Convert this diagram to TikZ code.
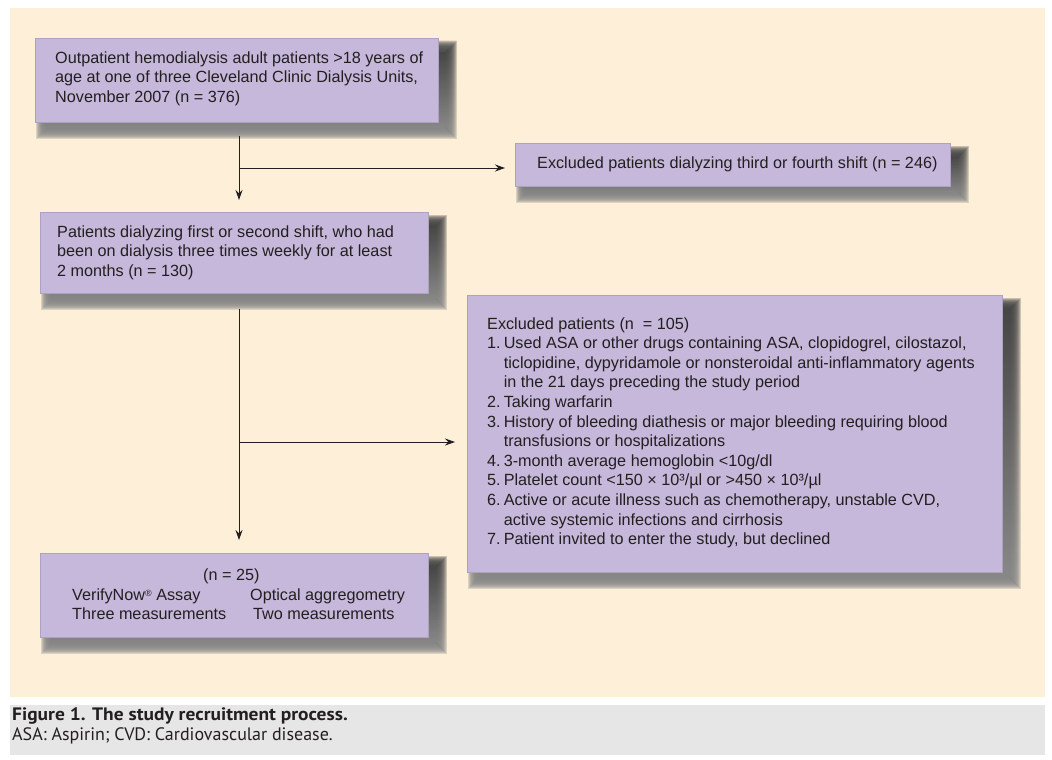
\documentclass[tikz,border=0pt]{standalone}
\usepackage{fontspec}
\setmainfont{Liberation Sans}
\newfontfamily\capfont{PT Sans}[BoldFeatures={FakeStretch=1.08}]
\usetikzlibrary{arrows.meta}
\pgfdeclarelayer{bg}
\pgfsetlayers{bg,main}
\definecolor{cream}{HTML}{FDEFD8}
\definecolor{lav}{HTML}{C5B8DA}
\definecolor{capgrey}{HTML}{E6E6E6}
\definecolor{ink}{HTML}{231F20}
\definecolor{shade}{HTML}{2A2218}
\newcommand\boxshadow[1]{%
  \foreach \i in {0,...,11}{%
    \fill[shade,opacity=0.15] ([shift={(1+\i,3+\i)}]#1.north west) rectangle ([shift={(18-\i,16-\i)}]#1.south east);}}
\begin{document}
\begin{tikzpicture}[x=1pt,y=-1pt,
  box/.style={fill=lav, draw=lav!88!black, line width=0.5pt, inner sep=0pt, anchor=north west},
  txt/.style={anchor=west, align=left, inner sep=0pt, text=ink, font=\fontsize{16.2}{19.6}\selectfont},
  conn/.style={draw=ink, line width=0.9pt, -{Stealth[length=10pt,width=7pt]}},
]
\useasboundingbox (0,0) rectangle (1052,760);

% boxes
\node[box, minimum width=403pt, minimum height=84pt] (b1) at (35,38) {};
\node[box, minimum width=435pt, minimum height=43pt] (b2) at (515,143) {};
\node[box, minimum width=388pt, minimum height=81pt] (b3) at (40,212) {};
\node[box, minimum width=535pt, minimum height=277pt] (b4) at (467,295) {};
\node[box, minimum width=388pt, minimum height=84pt] (b5) at (40,553) {};

\begin{pgfonlayer}{bg}
\fill[white] (0,0) rectangle (1052,760);
\fill[cream] (10,8) rectangle (1045,697);
\fill[capgrey] (10,705) rectangle (1045,755);
\boxshadow{b1}\boxshadow{b2}\boxshadow{b3}\boxshadow{b4}\boxshadow{b5}
\end{pgfonlayer}

% texts
\node[txt] (t1) at ([xshift=20pt,yshift=1.5pt]b1.west) {Outpatient hemodialysis adult patients >18 years of\\age at one of three Cleveland Clinic Dialysis Units,\\November 2007 (n = 376)};
\node[txt] (t2) at ([xshift=22pt]b2.west) {Excluded patients dialyzing third or fourth shift (n = 246)};
\node[txt] (t3) at ([xshift=17pt]b3.west) {Patients dialyzing first or second shift, who had\\been on dialysis three times weekly for at least\\2 months (n = 130)};
\node[txt] (t4) at ([xshift=20pt,yshift=1pt]b4.west) {Excluded patients (n\ \ = 105)\\
\makebox[16.6pt][l]{1.}Used ASA or other drugs containing ASA, clopidogrel, cilostazol,\\
\hspace*{16.6pt}ticlopidine, dypyridamole or nonsteroidal anti-inflammatory agents\\
\hspace*{16.6pt}in the 21 days preceding the study period\\
\makebox[16.6pt][l]{2.}Taking warfarin\\
\makebox[16.6pt][l]{3.}History of bleeding diathesis or major bleeding requiring blood\\
\hspace*{16.6pt}transfusions or hospitalizations\\
\makebox[16.6pt][l]{4.}3-month average hemoglobin <10g/dl\\
\makebox[16.6pt][l]{5.}Platelet count <150 × 10³/µl or >450 × 10³/µl\\
\makebox[16.6pt][l]{6.}Active or acute illness such as chemotherapy, unstable CVD,\\
\hspace*{16.6pt}active systemic infections and cirrhosis\\
\makebox[16.6pt][l]{7.}Patient invited to enter the study, but declined};
\node[txt] (t5) at ([xshift=32pt,yshift=1pt]b5.west) {\hspace*{131pt}(n = 25)\\
\makebox[178pt][l]{VerifyNow{\fontsize{9}{9}\selectfont\raisebox{4pt}{®}} Assay}Optical aggregometry\\
\makebox[181pt][l]{Three measurements}Two measurements};

% connectors
\coordinate (j1) at (239,168);
\coordinate (j2) at (239,442);
\draw[conn, shorten <=13pt, shorten >=12pt] (b1.south -| j1) -- (b3.north -| j1);
\draw[conn, shorten >=10pt] (j1) -- (b2.west |- j1);
\draw[conn, shorten <=15pt, shorten >=13pt] (b3.south -| j2) -- (b5.north -| j2);
\draw[conn, shorten >=12pt] (j2) -- (b4.west |- j2);

% caption
\node[anchor=north west, align=left, inner sep=0pt, text=ink, font=\capfont\fontsize{18}{20}\selectfont] (cap) at (12,707)
  {\textbf{Figure 1. The study recruitment process.}\\ASA: Aspirin; CVD: Cardiovascular disease.};
\end{tikzpicture}
\end{document}
